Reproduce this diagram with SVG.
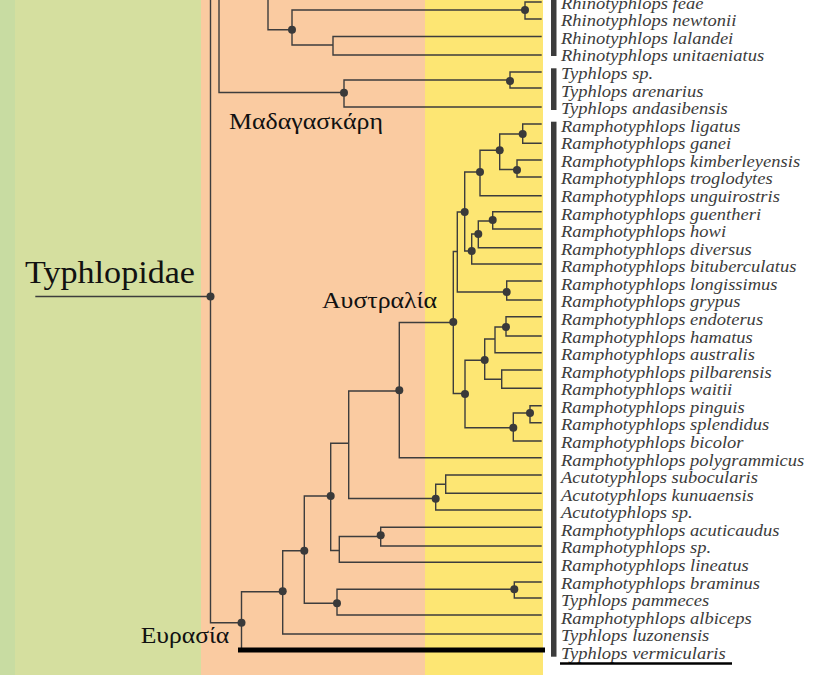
<svg xmlns="http://www.w3.org/2000/svg" width="828" height="675" viewBox="0 0 828 675">
<style>
.ln{fill:none;stroke:#3d3d3d;stroke-width:1.4;stroke-linecap:square}
.dot{fill:#3a3a3a}
.sp{font-family:"Liberation Serif","Times New Roman",serif;font-style:italic;font-size:17px;fill:#3c3c3c}
.rg{font-family:"Liberation Serif","Times New Roman",serif;font-size:22.5px;fill:#111}
.bar{fill:#3c3c3c}
</style>
<g id="background">
<rect x="0" y="0" width="828" height="675" fill="#ffffff"/>
<rect x="0" y="0" width="15" height="675" fill="#c8dca2"/>
<rect x="15" y="0" width="186" height="675" fill="#d5df9f"/>
<rect x="201" y="0" width="224" height="675" fill="#facba1"/>
<rect x="425" y="0" width="118" height="675" fill="#fde673"/>
</g>
<g id="connectors">
<path class="ln" d="M525,2 H541 M525,19 H541 M525,2 V19
M292,10 H525 M292,10 V45 M292,45 H333
M333,36.5 V55 M333,36.5 H541 M333,55 H541
M268,0 V29.7 H292
M219,0 V92.5 H344
M344,80 V107 M344,80 H510 M344,107 H541
M510,72 V88 M510,72 H541 M510,88 H541
M522.7,124 V143.3 M522.7,124 H541 M522.7,143.3 H541
M499.7,134 V169.5 M499.7,134 H522.7 M499.7,169.5 H517
M517,160 V177 M517,160 H541 M517,177 H541
M480,150.3 V195.7 M480,150.3 H499.7 M480,195.7 H541
M492.7,211.7 V229 M492.7,211.7 H541 M492.7,229 H541
M478.3,221 V247.7 M478.3,221 H492.7 M478.3,247.7 H541
M471.7,234 V264 M471.7,234 H478.3 M471.7,264 H541
M464.7,172 V251 M464.7,172 H480 M464.7,251 H471.7
M457.3,212 V292 M457.3,212 H464.7 M457.3,292 H506.7
M506.7,281 V300 M506.7,281 H541 M506.7,300 H541
M453.3,251.5 V393.5 M453.3,251.5 H457.3 M453.3,393.5 H465
M465,360.3 V427.7 M465,360.3 H484.7 M465,427.7 H513.3
M484.7,339 V379.3 M484.7,339 H495 M484.7,379.3 H501.7
M495,327 V352.7 M495,327 H506 M495,352.7 H541
M506,316.7 V336 M506,316.7 H541 M506,336 H541
M501.7,370 V388.3 M501.7,370 H541 M501.7,388.3 H541
M513.3,413 V441 M513.3,413 H530 M513.3,441 H541
M530,405.7 V422.7 M530,405.7 H541 M530,422.7 H541
M399.3,322.5 V457.7 M399.3,322.5 H453.3 M399.3,457.7 H541
M348.7,391 V498.5 M348.7,391 H399.3 M348.7,498.5 H435.7
M435.7,484.3 V510 M435.7,484.3 H445.7 M435.7,510 H541
M445.7,475 V493.3 M445.7,475 H541 M445.7,493.3 H541
M330.7,443.3 V550.5 M330.7,443.3 H348.7 M330.7,550.5 H339.3
M339.3,536.5 V562.3 M339.3,536.5 H380.7 M339.3,562.3 H541
M380.7,527.3 V546 M380.7,527.3 H541 M380.7,546 H541
M304.3,496 V603.3 M304.3,496 H330.7 M304.3,603.3 H337
M337,589.3 V615 M337,589.3 H514.3 M337,615 H541
M514.3,582 V598 M514.3,582 H541 M514.3,598 H541
M282.7,550.7 V634 M282.7,550.7 H304.3 M282.7,634 H541
M241.5,591.7 V650 M241.5,591.7 H282.7
M210.5,0 V622.7 H241.5 M36,296.5 H210.5"/>
<path d="M238,650 H545" stroke="#000" stroke-width="5" fill="none"/>
</g>
<g id="internal-nodes">
<g id="n-root"><circle class="dot" cx="210.5" cy="296.5" r="4"/></g>
<g id="n-rhino1"><circle class="dot" cx="525" cy="10" r="4"/></g>
<g id="n-rhino2"><circle class="dot" cx="292" cy="29.7" r="4"/></g>
<g id="n-typh-mad"><circle class="dot" cx="344" cy="92.7" r="4"/></g>
<g id="n-typh-mad2"><circle class="dot" cx="510" cy="81" r="4"/></g>
<g id="n-F"><circle class="dot" cx="522.7" cy="134" r="4"/></g>
<g id="n-G"><circle class="dot" cx="499.7" cy="150.3" r="4"/></g>
<g id="n-H"><circle class="dot" cx="517" cy="170" r="4"/></g>
<g id="n-I"><circle class="dot" cx="480" cy="172" r="4"/></g>
<g id="n-J"><circle class="dot" cx="492.7" cy="220" r="4"/></g>
<g id="n-K"><circle class="dot" cx="478.3" cy="234" r="4"/></g>
<g id="n-L"><circle class="dot" cx="471.7" cy="251" r="4"/></g>
<g id="n-M"><circle class="dot" cx="464.7" cy="212" r="4"/></g>
<g id="n-O"><circle class="dot" cx="506.7" cy="292" r="4"/></g>
<g id="n-P"><circle class="dot" cx="453.3" cy="322" r="4"/></g>
<g id="n-Q"><circle class="dot" cx="465" cy="394" r="4"/></g>
<g id="n-R"><circle class="dot" cx="484.7" cy="360" r="4"/></g>
<g id="n-T"><circle class="dot" cx="506" cy="327" r="4"/></g>
<g id="n-V"><circle class="dot" cx="513.3" cy="427.7" r="4"/></g>
<g id="n-W"><circle class="dot" cx="530" cy="413" r="4"/></g>
<g id="n-X"><circle class="dot" cx="399.3" cy="390.3" r="4"/></g>
<g id="n-Z"><circle class="dot" cx="435.7" cy="498.7" r="4"/></g>
<g id="n-AB"><circle class="dot" cx="330.7" cy="496" r="4"/></g>
<g id="n-AD"><circle class="dot" cx="380.7" cy="535.3" r="4"/></g>
<g id="n-AE"><circle class="dot" cx="304.3" cy="550.7" r="4"/></g>
<g id="n-AF"><circle class="dot" cx="337" cy="603.3" r="4"/></g>
<g id="n-AG"><circle class="dot" cx="514.3" cy="589.3" r="4"/></g>
<g id="n-AH"><circle class="dot" cx="282.7" cy="591.3" r="4"/></g>
<g id="n-AI"><circle class="dot" cx="241.5" cy="622.7" r="4"/></g>
</g>
<g id="group-bars">
<rect class="bar" x="551" y="0" width="5.5" height="56"/>
<rect class="bar" x="551" y="68.3" width="5.5" height="41.7"/>
<rect class="bar" x="551" y="121.7" width="5.5" height="535"/>
</g>
<g id="region-labels">
<g id="lbl-typhlopidae"><text x="25" y="282.7" font-family="Liberation Serif, serif" font-size="31" fill="#111" textLength="170" lengthAdjust="spacingAndGlyphs">Typhlopidae</text></g>
<g id="lbl-madagascar"><text class="rg" x="229" y="128.5" textLength="154" lengthAdjust="spacingAndGlyphs">Μαδαγασκάρη</text></g>
<g id="lbl-australia"><text class="rg" x="322" y="307.7" textLength="115" lengthAdjust="spacingAndGlyphs">Αυστραλία</text></g>
<g id="lbl-eurasia"><text class="rg" x="140.7" y="643.3" textLength="88.6" lengthAdjust="spacingAndGlyphs">Ευρασία</text></g>
</g>
<g id="tips">
<g id="t01"><text class="sp" transform="translate(561 8.7) scale(1.09 1)">Rhinotyphlops feae</text></g>
<g id="t02"><text class="sp" transform="translate(561 26.3) scale(1.09 1)">Rhinotyphlops newtonii</text></g>
<g id="t03"><text class="sp" transform="translate(561 43.85) scale(1.09 1)">Rhinotyphlops lalandei</text></g>
<g id="t04"><text class="sp" transform="translate(561 61.4) scale(1.09 1)">Rhinotyphlops unitaeniatus</text></g>
<g id="t05"><text class="sp" transform="translate(561 79) scale(1.09 1)">Typhlops sp.</text></g>
<g id="t06"><text class="sp" transform="translate(561 96.6) scale(1.09 1)">Typhlops arenarius</text></g>
<g id="t07"><text class="sp" transform="translate(561 114.1) scale(1.09 1)">Typhlops andasibensis</text></g>
<g id="t08"><text class="sp" transform="translate(561 131.7) scale(1.09 1)">Ramphotyphlops ligatus</text></g>
<g id="t09"><text class="sp" transform="translate(561 149.3) scale(1.09 1)">Ramphotyphlops ganei</text></g>
<g id="t10"><text class="sp" transform="translate(561 166.8) scale(1.09 1)">Ramphotyphlops kimberleyensis</text></g>
<g id="t11"><text class="sp" transform="translate(561 184.4) scale(1.09 1)">Ramphotyphlops troglodytes</text></g>
<g id="t12"><text class="sp" transform="translate(561 202) scale(1.09 1)">Ramphotyphlops unguirostris</text></g>
<g id="t13"><text class="sp" transform="translate(561 219.6) scale(1.09 1)">Ramphotyphlops guentheri</text></g>
<g id="t14"><text class="sp" transform="translate(561 237.1) scale(1.09 1)">Ramphotyphlops howi</text></g>
<g id="t15"><text class="sp" transform="translate(561 254.7) scale(1.09 1)">Ramphotyphlops diversus</text></g>
<g id="t16"><text class="sp" transform="translate(561 272.3) scale(1.09 1)">Ramphotyphlops bituberculatus</text></g>
<g id="t17"><text class="sp" transform="translate(561 289.8) scale(1.09 1)">Ramphotyphlops longissimus</text></g>
<g id="t18"><text class="sp" transform="translate(561 307.4) scale(1.09 1)">Ramphotyphlops grypus</text></g>
<g id="t19"><text class="sp" transform="translate(561 325) scale(1.09 1)">Ramphotyphlops endoterus</text></g>
<g id="t20"><text class="sp" transform="translate(561 342.5) scale(1.09 1)">Ramphotyphlops hamatus</text></g>
<g id="t21"><text class="sp" transform="translate(561 360.1) scale(1.09 1)">Ramphotyphlops australis</text></g>
<g id="t22"><text class="sp" transform="translate(561 377.7) scale(1.09 1)">Ramphotyphlops pilbarensis</text></g>
<g id="t23"><text class="sp" transform="translate(561 395.3) scale(1.09 1)">Ramphotyphlops waitii</text></g>
<g id="t24"><text class="sp" transform="translate(561 412.8) scale(1.09 1)">Ramphotyphlops pinguis</text></g>
<g id="t25"><text class="sp" transform="translate(561 430.4) scale(1.09 1)">Ramphotyphlops splendidus</text></g>
<g id="t26"><text class="sp" transform="translate(561 448) scale(1.09 1)">Ramphotyphlops bicolor</text></g>
<g id="t27"><text class="sp" transform="translate(561 465.5) scale(1.09 1)">Ramphotyphlops polygrammicus</text></g>
<g id="t28"><text class="sp" transform="translate(561 483.1) scale(1.09 1)">Acutotyphlops subocularis</text></g>
<g id="t29"><text class="sp" transform="translate(561 500.7) scale(1.09 1)">Acutotyphlops kunuaensis</text></g>
<g id="t30"><text class="sp" transform="translate(561 518.2) scale(1.09 1)">Acutotyphlops sp.</text></g>
<g id="t31"><text class="sp" transform="translate(561 535.8) scale(1.09 1)">Ramphotyphlops acuticaudus</text></g>
<g id="t32"><text class="sp" transform="translate(561 553.4) scale(1.09 1)">Ramphotyphlops sp.</text></g>
<g id="t33"><text class="sp" transform="translate(561 571) scale(1.09 1)">Ramphotyphlops lineatus</text></g>
<g id="t34"><text class="sp" transform="translate(561 588.5) scale(1.09 1)">Ramphotyphlops braminus</text></g>
<g id="t35"><text class="sp" transform="translate(561 606.1) scale(1.09 1)">Typhlops pammeces</text></g>
<g id="t36"><text class="sp" transform="translate(561 623.7) scale(1.09 1)">Ramphotyphlops albiceps</text></g>
<g id="t37"><text class="sp" transform="translate(561 641.2) scale(1.09 1)">Typhlops luzonensis</text></g>
<g id="t38"><text class="sp" transform="translate(561 658.8) scale(1.09 1)">Typhlops vermicularis</text><path d="M560,663.5 H732" stroke="#000" stroke-width="2.3" fill="none"/></g>
</g>
</svg>
